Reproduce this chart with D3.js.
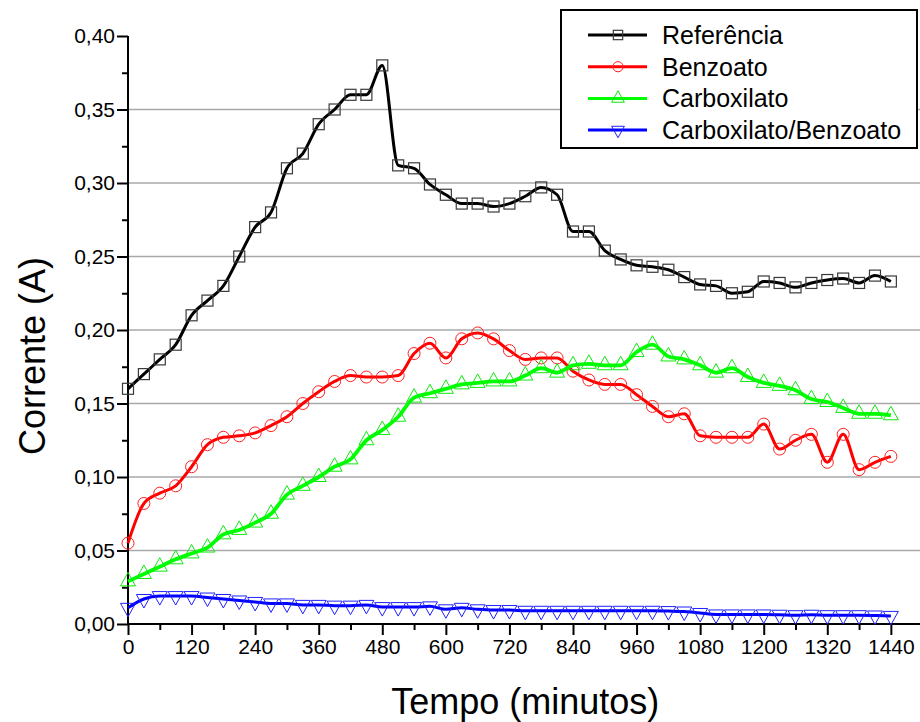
<!DOCTYPE html>
<html>
<head>
<meta charset="utf-8">
<script src="https://cdn.jsdelivr.net/npm/d3@7"></script>
<style>
  body { margin: 0; background: #fff; }
  svg { display: block; font-family: "Liberation Sans", Arial, sans-serif; }
</style>
</head>
<body>
<svg id="chart" width="920" height="722"></svg>
<script>
// time in minutes, one reading every 30 min
let tempo = [0, 30, 60, 90, 120, 150, 180, 210, 240, 270, 300, 330, 360, 390, 420, 450, 480, 510, 540, 570,
  600, 630, 660, 690, 720, 750, 780, 810, 840, 870, 900, 930, 960, 990, 1020, 1050, 1080, 1110, 1140, 1170,
  1200, 1230, 1260, 1290, 1320, 1350, 1380, 1410, 1440]

let referencia = [0.160, 0.170, 0.180, 0.190, 0.210, 0.220, 0.230, 0.250, 0.270, 0.280, 0.310, 0.320, 0.340, 0.350,
  0.360, 0.360, 0.380, 0.312, 0.310, 0.299, 0.292, 0.286, 0.286, 0.284, 0.286, 0.291, 0.297, 0.292, 0.267, 0.267,
  0.254, 0.248, 0.244, 0.243, 0.241, 0.236, 0.231, 0.230, 0.225, 0.226, 0.233, 0.232, 0.229, 0.232, 0.234, 0.235,
  0.232, 0.237, 0.233]

let benzoato = [0.055, 0.082, 0.089, 0.094, 0.107, 0.122, 0.127, 0.128, 0.130, 0.135, 0.141, 0.150, 0.158, 0.165,
  0.169, 0.168, 0.168, 0.169, 0.184, 0.191, 0.181, 0.194, 0.198, 0.194, 0.186, 0.180, 0.181, 0.181, 0.172, 0.166,
  0.163, 0.163, 0.156, 0.148, 0.141, 0.143, 0.128, 0.127, 0.127, 0.127, 0.136, 0.119, 0.125, 0.129, 0.110, 0.129,
  0.105, 0.110, 0.114]

let carboxilato = [0.029, 0.034, 0.039, 0.044, 0.048, 0.052, 0.061, 0.064, 0.069, 0.075, 0.088, 0.094, 0.100, 0.107,
  0.112, 0.125, 0.132, 0.141, 0.154, 0.157, 0.160, 0.163, 0.164, 0.165, 0.165, 0.169, 0.174, 0.171, 0.176, 0.177,
  0.176, 0.176, 0.185, 0.190, 0.182, 0.180, 0.176, 0.171, 0.174, 0.168, 0.164, 0.162, 0.159, 0.153, 0.151, 0.147,
  0.143, 0.143, 0.142]

let carboxBenzo = [0.011, 0.017, 0.019, 0.019, 0.019, 0.018, 0.017, 0.016, 0.015, 0.014, 0.014, 0.013, 0.013, 0.0125,
  0.0125, 0.013, 0.0115, 0.0115, 0.0115, 0.012, 0.010, 0.011, 0.010, 0.0095, 0.0095, 0.009, 0.009, 0.009, 0.009,
  0.009, 0.009, 0.009, 0.009, 0.009, 0.0088, 0.0085, 0.0075, 0.0065, 0.0065, 0.0065, 0.0065, 0.0063, 0.006, 0.0063,
  0.006, 0.006, 0.006, 0.0058, 0.0055]

let xTicks = [0, 120, 240, 360, 480, 600, 720, 840, 960, 1080, 1200, 1320, 1440]
let yTicks = [0, 0.05, 0.10, 0.15, 0.20, 0.25, 0.30, 0.35, 0.40]
let seriesNames = ["Referência", "Benzoato", "Carboxilato", "Carboxilato/Benzoato"]

let series = [
  {name: seriesNames[0], values: referencia, color: "#000000", mark: "#3a3a3a", symbol: "square"},
  {name: seriesNames[1], values: benzoato, color: "#ff0000", mark: "#ff2020", symbol: "circle"},
  {name: seriesNames[2], values: carboxilato, color: "#00ff00", mark: "#10e810", symbol: "up"},
  {name: seriesNames[3], values: carboxBenzo, color: "#0000ff", mark: "#2020ff", symbol: "down"}
]

let svg = d3.select("#chart")

let margin = {top: 36, right: 0, bottom: 98, left: 128},
    width = 920 - margin.left - margin.right,
    height = 722 - margin.top - margin.bottom

// x runs past 1440 to the right edge of the picture
let x = d3.scaleLinear()
      .domain([0, 1495])
      .range([0, width])

let y = d3.scaleLinear()
      .domain([0, 0.40])
      .range([height, 0])

let ptBR = d3.formatLocale({decimal: ",", thousands: ".", grouping: [3], currency: ["R$", ""]})
let fmt = ptBR.format(".2f")

let g = svg.append("g")
      .attr("transform", "translate(" + margin.left + "," + margin.top + ")")

// horizontal grid
g.append("g")
  .selectAll("line")
  .data(yTicks.filter(d => d > 0 && d < 0.4))
  .enter().append("line")
  .attr("x1", 0).attr("x2", width)
  .attr("y1", d => y(d)).attr("y2", d => y(d))
  .attr("stroke", "#a8a8a8")
  .attr("stroke-width", 1.6)

// axes
let xAxis = g.append("g")
  .attr("transform", "translate(0," + height + ")")
  .call(d3.axisBottom(x).tickValues(xTicks).tickSize(11).tickPadding(4).tickFormat(d3.format("d")))
let xMinor = g.append("g")
  .attr("transform", "translate(0," + height + ")")
  .call(d3.axisBottom(x).tickValues(xTicks.map(d => d + 60)).tickSize(6).tickFormat(""))

let yAxis = g.append("g")
  .call(d3.axisLeft(y).tickValues(yTicks).tickSize(11).tickPadding(2).tickFormat(fmt))
let yMinor = g.append("g")
  .call(d3.axisLeft(y).tickValues(yTicks.slice(0, -1).map(d => d + 0.025)).tickSize(6).tickFormat(""))

svg.selectAll(".domain").attr("stroke", "#000").attr("stroke-width", 2)
svg.selectAll(".tick line").attr("stroke", "#000").attr("stroke-width", 2)
xMinor.select(".domain").remove()
yMinor.select(".domain").remove()
xAxis.select(".domain").attr("d", "M0,0H" + width)
yAxis.select(".domain").attr("d", "M0," + height + "V0")
svg.selectAll(".tick text").attr("font-size", 21).attr("fill", "#000")
  .attr("font-family", "Liberation Sans, Arial, sans-serif")

// titles
svg.append("text")
  .attr("x", margin.left + x(750)).attr("y", 714)
  .attr("text-anchor", "middle")
  .attr("font-size", 36)
  .text("Tempo (minutos)")

svg.append("text")
  .attr("transform", "translate(45,356) rotate(-90)")
  .attr("text-anchor", "middle")
  .attr("font-size", 36)
  .text("Corrente (A)")

// lines + markers
let line = d3.line()
      .x((d, i) => x(tempo[i]))
      .y(d => y(d))
      .curve(d3.curveMonotoneX)

function drawMark(sel, s, px, py, sz) {
  let k = sz || 1
  if (s.symbol == "square") {
    sel.append("rect")
      .attr("x", px - 5.5 * k).attr("y", py - 5.5 * k)
      .attr("width", 11 * k).attr("height", 11 * k)
      .attr("fill", "none").attr("stroke", s.mark).attr("stroke-width", 1.2)
  } else if (s.symbol == "circle") {
    sel.append("circle")
      .attr("cx", px).attr("cy", py).attr("r", 6 * k)
      .attr("fill", "none").attr("stroke", s.mark).attr("stroke-width", 1)
  } else {
    let dir = s.symbol == "up" ? 1 : -1
    let pts = [[px, py - dir * 9 * k], [px - 7.5 * k, py + dir * 4.5 * k], [px + 7.5 * k, py + dir * 4.5 * k]]
    sel.append("path")
      .attr("d", "M" + pts.join("L") + "Z")
      .attr("fill", "none").attr("stroke", s.mark).attr("stroke-width", 1)
  }
}

series.forEach(s => {
  g.append("path")
    .datum(s.values)
    .attr("fill", "none")
    .attr("stroke", s.color)
    .attr("stroke-width", s.symbol == "up" ? 3.8 : 3)
    .attr("stroke-linejoin", "round")
    .attr("d", line)
  let marks = g.append("g")
  s.values.forEach((v, i) => drawMark(marks, s, x(tempo[i]), y(v)))
})

// legend
let legend = svg.append("g")
legend.append("rect")
  .attr("x", 561).attr("y", 10)
  .attr("width", 356).attr("height", 138)
  .attr("fill", "#fff").attr("stroke", "#000").attr("stroke-width", 2)

series.forEach((s, i) => {
  let ly = 35 + i * 31.7
  legend.append("line")
    .attr("x1", 588).attr("x2", 647)
    .attr("y1", ly).attr("y2", ly)
    .attr("stroke", s.color).attr("stroke-width", 3)
  drawMark(legend, s, 618, ly, 0.85)
  legend.append("text")
    .attr("x", 662).attr("y", ly + 9)
    .attr("font-size", 25)
    .text(s.name)
})
</script>
</body>
</html>
